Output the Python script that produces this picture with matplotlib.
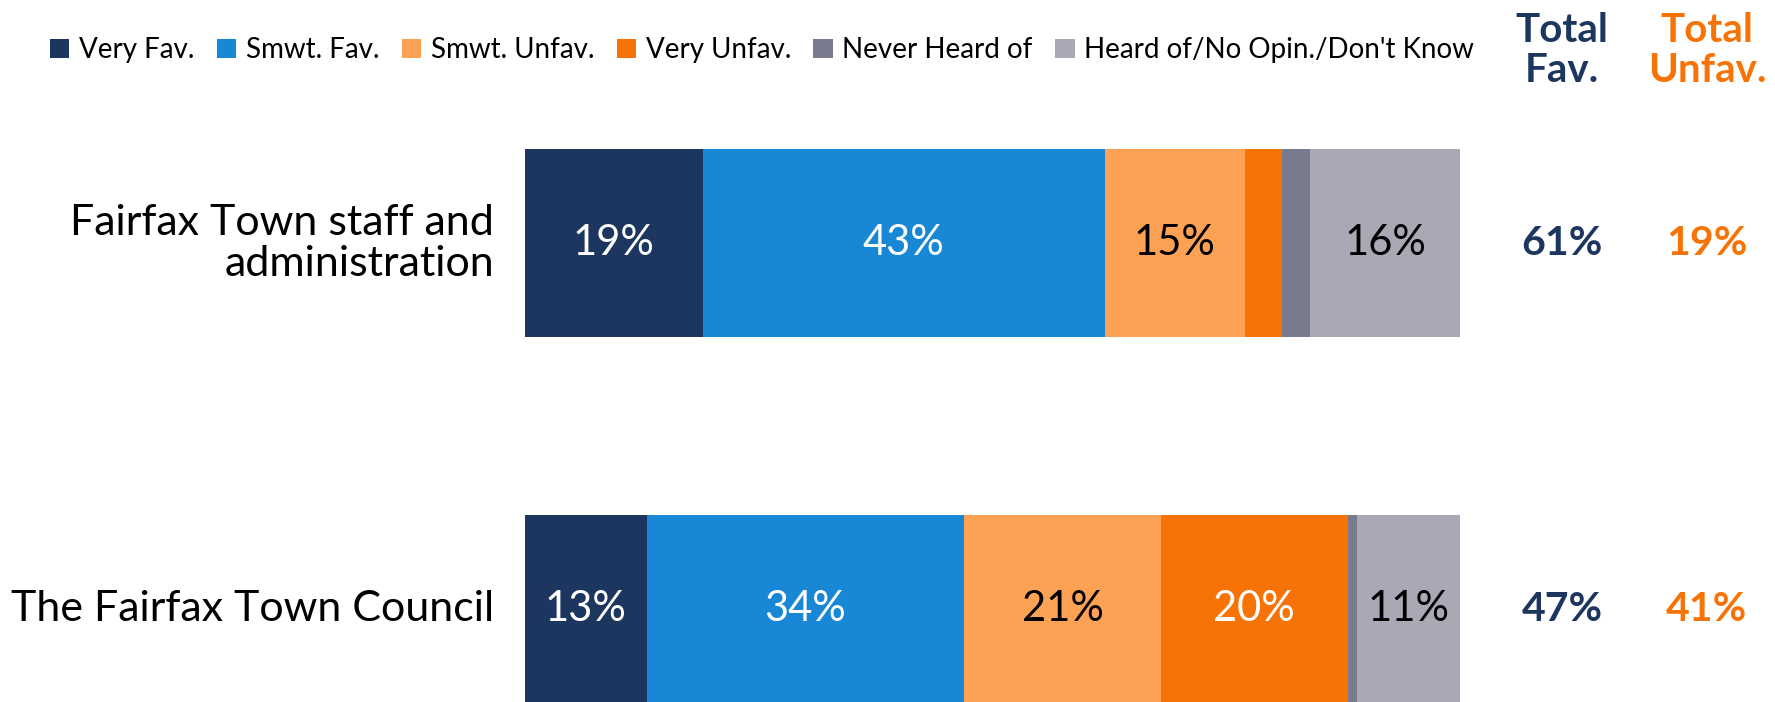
import matplotlib
matplotlib.use("Agg")
import matplotlib.pyplot as plt
from matplotlib.patches import Patch

plt.rcParams["font.family"] = ["Lato", "DejaVu Sans"]

# Data
categories = ["Fairfax Town staff and\nadministration", "The Fairfax Town Council"]
series_names = ["Very Fav.", "Smwt. Fav.", "Smwt. Unfav.", "Very Unfav.",
                "Never Heard of", "Heard of/No Opin./Don't Know"]
very_fav = [19, 13]
smwt_fav = [43, 34]
smwt_unfav = [15, 21]
very_unfav = [4, 20]
never_heard = [3, 1]
no_opinion = [16, 11]
total_fav = [61, 47]
total_unfav = [19, 41]

colors = ["#1D3660", "#1888D6", "#FDA154", "#F87305", "#787A8E", "#A8A9B5"]
label_colors = ["white", "white", "black", "white", "white", "black"]
min_label = 8

fig = plt.figure(figsize=(17.75, 7.02), dpi=100)
ax = fig.add_axes([525 / 1775, 0, 935 / 1775, 1 - 149 / 702])

series = [very_fav, smwt_fav, smwt_unfav, very_unfav, never_heard, no_opinion]
ypos = [1, 0]
h = 0.514
lefts = [0, 0]
for vals, col, tcol in zip(series, colors, label_colors):
    ax.barh(ypos, vals, left=lefts, height=h, color=col, edgecolor="none")
    for y, v, l in zip(ypos, vals, lefts):
        if v >= min_label:
            ax.text(l + v / 2, y, f"{v}%", ha="center", va="center",
                    color=tcol, fontsize=30)
    lefts = [a + b for a, b in zip(lefts, vals)]

ax.set_xlim(0, 100)
ax.set_ylim(-0.254, 1.257)
ax.axis("off")

trans = ax.get_yaxis_transform()
for y, cat, tf, tu in zip(ypos, categories, total_fav, total_unfav):
    ax.text(-0.033, y, cat, transform=trans, ha="right", va="center",
            fontsize=31, linespacing=1.1, clip_on=False)
    ax.text(1.109, y, f"{tf}%", transform=trans, ha="center", va="center",
            fontsize=29.5, fontweight="bold", color=colors[0], clip_on=False)
    ax.text(1.264, y, f"{tu}%", transform=trans, ha="center", va="center",
            fontsize=29.5, fontweight="bold", color=colors[3], clip_on=False)

fig.text(1562 / 1775, 1 - 50 / 702, "Total\nFav.", ha="center", va="center",
         fontsize=29, fontweight="bold", color=colors[0], linespacing=1.1)
fig.text(1707 / 1775, 1 - 50 / 702, "Total\nUnfav.", ha="center", va="center",
         fontsize=29, fontweight="bold", color=colors[3], linespacing=1.1)

handles = [Patch(facecolor=c, edgecolor="none") for c in colors]
fig.legend(handles, series_names, loc="center left",
           bbox_to_anchor=(50 / 1775, 1 - 50 / 702), ncol=6, frameon=False,
           fontsize=20, handlelength=0.7, handleheight=0.7,
           handletextpad=0.35, columnspacing=0.8, borderaxespad=0,
           borderpad=0)

fig.savefig("out.png", dpi=100)
